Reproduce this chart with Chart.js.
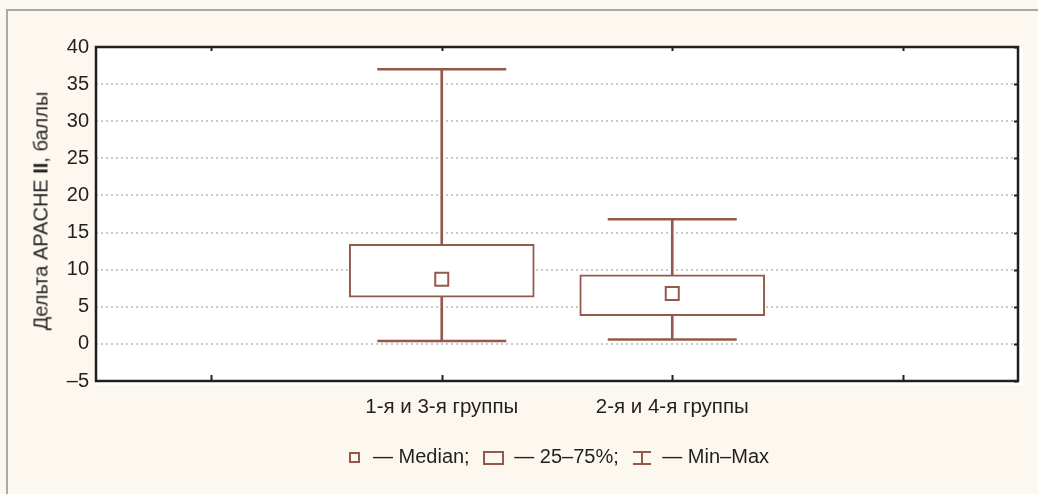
<!DOCTYPE html>
<html>
<head>
<meta charset="utf-8">
<script src="https://cdn.jsdelivr.net/npm/chart.js@4/dist/chart.umd.min.js"></script>
<style>
  html, body { margin: 0; padding: 0; }
  body { width: 1038px; height: 494px; background: #fcf7ef; position: relative; overflow: hidden;
         font-family: "Liberation Sans", Arial, sans-serif; color: #231f20; }
  #frame { position: absolute; left: 6px; top: 9px; right: 0; bottom: 0;
           border-left: 2px solid #a9a9a9; border-top: 2px solid #a9a9a9; }
  #c { position: absolute; left: 0; top: 0; }
  #ytitle { position: absolute; left: 41px; top: 211px; transform: translate(-50%, -50%) rotate(-90deg);
            white-space: nowrap; font-size: 20px; }
  #legend { position: absolute; left: 0; width: 1118px; top: 445px; text-align: center; font-size: 20px; white-space: nowrap; }
  #legend span.it { display: inline-block; vertical-align: middle; }
  .sq { width: 7px; height: 7px; border: 2px solid #93594a; margin-right: 13px; }
  .rc { width: 17px; height: 10px; border: 2px solid #93594a; margin: 0 10px 0 8px; }
  .ib { width: 18px; height: 14px; position: relative; margin: 0 11px 0 9px; }
  .ib i { position: absolute; background: #93594a; }
</style>
</head>
<body>
<div id="frame"></div>
<canvas id="c" width="1038" height="494"></canvas>
<div id="ytitle">Дельта APACHE <b>II</b>, баллы</div>
<div id="legend"><span class="it sq"></span>— Median; <span class="it rc"></span>— 25–75%; <span class="it ib"><i style="left:0;top:0;width:18px;height:2px"></i><i style="left:8px;top:0;width:2px;height:14px"></i><i style="left:0;top:12px;width:18px;height:2px"></i></span>— Min–Max</div>
<script>
const categories = ['', '1-я и 3-я группы', '2-я и 4-я группы', ''];
const minValues    = [null, 0.4, 0.6, null];
const q1Values     = [null, 6.3, 3.8, null];
const medianValues = [null, 8.7, 6.8, null];
const q3Values     = [null, 13.4, 9.3, null];
const maxValues    = [null, 37, 16.8, null];
const yMin = -5, yMax = 40, yStep = 5;

const brown = '#93594a';
const ink = '#231f20';

const whiskers = categories.map((_, i) => minValues[i] == null ? null : [minValues[i], maxValues[i]]);
const boxes = categories.map((_, i) => q1Values[i] == null ? null : [q1Values[i], q3Values[i]]);

const plotPlugin = {
  id: 'plotFrame',
  beforeDraw(chart) {
    const { ctx, chartArea: a } = chart;
    ctx.save();
    ctx.fillStyle = '#ffffff';
    ctx.fillRect(a.left, a.top, a.right - a.left + 5, a.bottom - a.top + 4);
    ctx.restore();
  },
  afterDraw(chart) {
    const { ctx, chartArea: a, scales } = chart;
    ctx.save();
    ctx.strokeStyle = ink;
    ctx.lineWidth = 2.5;
    ctx.strokeRect(a.left, a.top, a.right - a.left, a.bottom - a.top);
    ctx.lineWidth = 2;
    ctx.beginPath();
    scales.x.ticks.forEach((t, i) => {
      const x = Math.round(scales.x.getPixelForTick(i)) + 0.5;
      ctx.moveTo(x, a.bottom); ctx.lineTo(x, a.bottom - 6);
      ctx.moveTo(x, a.top); ctx.lineTo(x, a.top + 4);
    });
    scales.y.ticks.forEach((t) => {
      const y = Math.round(scales.y.getPixelForValue(t.value)) + 0.5;
      ctx.moveTo(a.right, y); ctx.lineTo(a.right - 4, y);
    });
    ctx.stroke();
    ctx.restore();
  }
};

const capRadius = (c) => (c.raw == null ? 0 : 64.5);
const medRadius = (c) => (c.raw == null ? 0 : 9.2);

new Chart(document.getElementById('c'), {
  type: 'bar',
  data: {
    labels: categories,
    datasets: [
      { label: 'Min–Max', data: whiskers, backgroundColor: brown, borderWidth: 0,
        barThickness: 2, grouped: false, order: 4 },
      { label: '25–75%', data: boxes, backgroundColor: '#ffffff', borderColor: brown,
        borderWidth: 2, borderSkipped: false, barThickness: 185, grouped: false, order: 3 },
      { type: 'line', label: 'Min', data: minValues, showLine: false, pointStyle: 'line',
        pointRadius: capRadius, borderColor: brown, pointBorderWidth: 2.5, borderWidth: 0, order: 2 },
      { type: 'line', label: 'Max', data: maxValues, showLine: false, pointStyle: 'line',
        pointRadius: capRadius, borderColor: brown, pointBorderWidth: 2.5, borderWidth: 0, order: 2 },
      { type: 'line', label: 'Median', data: medianValues, showLine: false, pointStyle: 'rect',
        pointRadius: medRadius, pointBackgroundColor: '#ffffff', pointBorderColor: brown,
        pointBorderWidth: 2, borderWidth: 0, order: 1 }
    ]
  },
  options: {
    responsive: false,
    animation: false,
    events: [],
    layout: { padding: { left: 0, top: 47, right: 20, bottom: 0 } },
    plugins: { legend: { display: false }, tooltip: { enabled: false } },
    scales: {
      x: {
        grid: { display: false, drawTicks: false },
        border: { display: false },
        ticks: { color: ink, padding: 14, font: { family: 'Liberation Sans', size: 20.5 } },
        afterFit(scale) { scale.height = 113; }
      },
      y: {
        min: yMin, max: yMax,
        grid: { color: '#c9c9c9', lineWidth: 2, drawTicks: false },
        border: { display: false, dash: [2, 3] },
        ticks: {
          stepSize: yStep, color: ink, padding: 7,
          font: { family: 'Liberation Sans', size: 20 },
          callback: (v) => v < 0 ? '–' + Math.abs(v) : String(v)
        },
        afterFit(scale) { scale.width = 96; }
      }
    }
  },
  plugins: [plotPlugin]
});
</script>
</body>
</html>
